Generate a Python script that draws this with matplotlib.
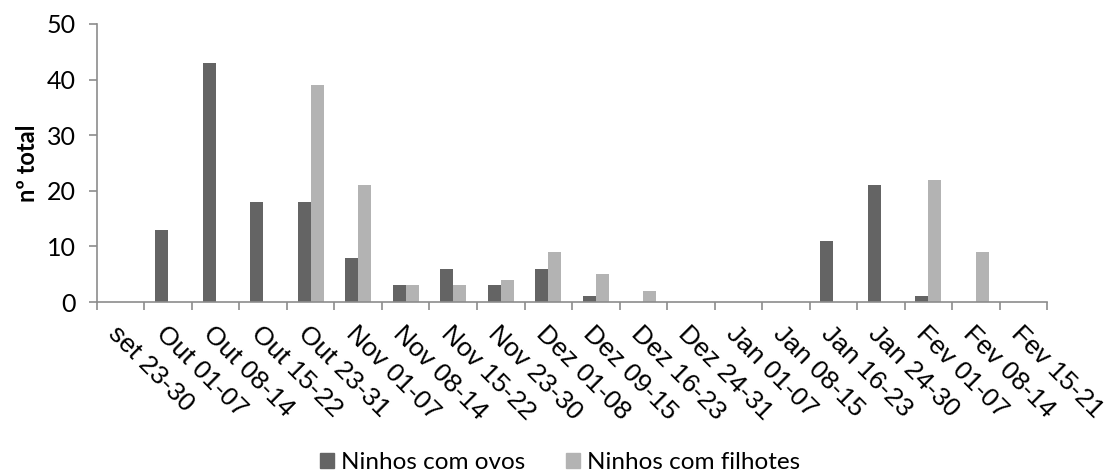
import numpy as np
import matplotlib
matplotlib.use("Agg")
import matplotlib.pyplot as plt
from matplotlib.transforms import ScaledTranslation
from matplotlib.patches import Patch

# data
CATS = ["set 23-30", "Out 01-07", "Out 08-14", "Out 15-22", "Out 23-31",
        "Nov 01-07", "Nov 08-14", "Nov 15-22", "Nov 23-30", "Dez 01-08",
        "Dez 09-15", "Dez 16-23", "Dez 24-31", "Jan 01-07", "Jan 08-15",
        "Jan 16-23", "Jan 24-30", "Fev 01-07", "Fev 08-14", "Fev 15-21"]
OVOS = [0, 13, 43, 18, 18, 8, 3, 6, 3, 6, 1, 0, 0, 0, 0, 11, 21, 1, 0, 0]
FILHOTES = [0, 0, 0, 0, 39, 21, 3, 3, 4, 9, 5, 2, 0, 0, 0, 0, 0, 22, 9, 0]
YTICKS = [0, 10, 20, 30, 40, 50]

DARK, LIGHT, AXC, INK = "#646464", "#b3b3b3", "#8c8c8c", "#000000"

fig = plt.figure(figsize=(11.16, 4.76), dpi=100)
ax = fig.add_axes([0.0869, 0.3655, 0.8513, 0.5841])

x = np.arange(len(CATS))
w = 0.27
ax.bar(x - w / 2, OVOS, width=w, color=DARK, label="Ninhos com ovos")
ax.bar(x + w / 2, FILHOTES, width=w, color=LIGHT, label="Ninhos com filhotes")

ax.set_xlim(-0.5, len(CATS) - 0.5)
ax.set_ylim(0, 50)
ax.set_yticks(YTICKS)
ax.set_yticklabels([str(t) for t in YTICKS], fontsize=18, family="Lato")
ax.set_xticks(np.arange(-0.5, len(CATS)), labels=[])
for s in ["top", "right"]:
    ax.spines[s].set_visible(False)
for s in ["left", "bottom"]:
    ax.spines[s].set_color(AXC)
    ax.spines[s].set_linewidth(1.2)
ax.tick_params(axis="both", color=AXC, length=6, width=1.2, direction="out")
ax.tick_params(axis="y", pad=9)

off = ax.get_xaxis_transform() + ScaledTranslation(0.0, -0.2, fig.dpi_scale_trans)
for i, lab in enumerate(CATS):
    ax.text(i, 0, lab, transform=off, rotation=-45, rotation_mode="anchor",
            ha="left", va="top", fontsize=19, family="Liberation Sans", color=INK)

ax.set_ylabel("nº total", fontsize=17, fontweight="bold", family="Lato", labelpad=6)

fig.legend(handles=[Patch(color=DARK, label="Ninhos com ovos"),
                    Patch(color=LIGHT, label="Ninhos com filhotes")],
           loc="lower center", bbox_to_anchor=(0.502, -0.04), ncol=2, frameon=False,
           prop={"family": "Lato", "size": 17.5}, handlelength=0.55, handleheight=0.55,
           handletextpad=0.3, columnspacing=1.7)

fig.savefig("out.png", dpi=100)
